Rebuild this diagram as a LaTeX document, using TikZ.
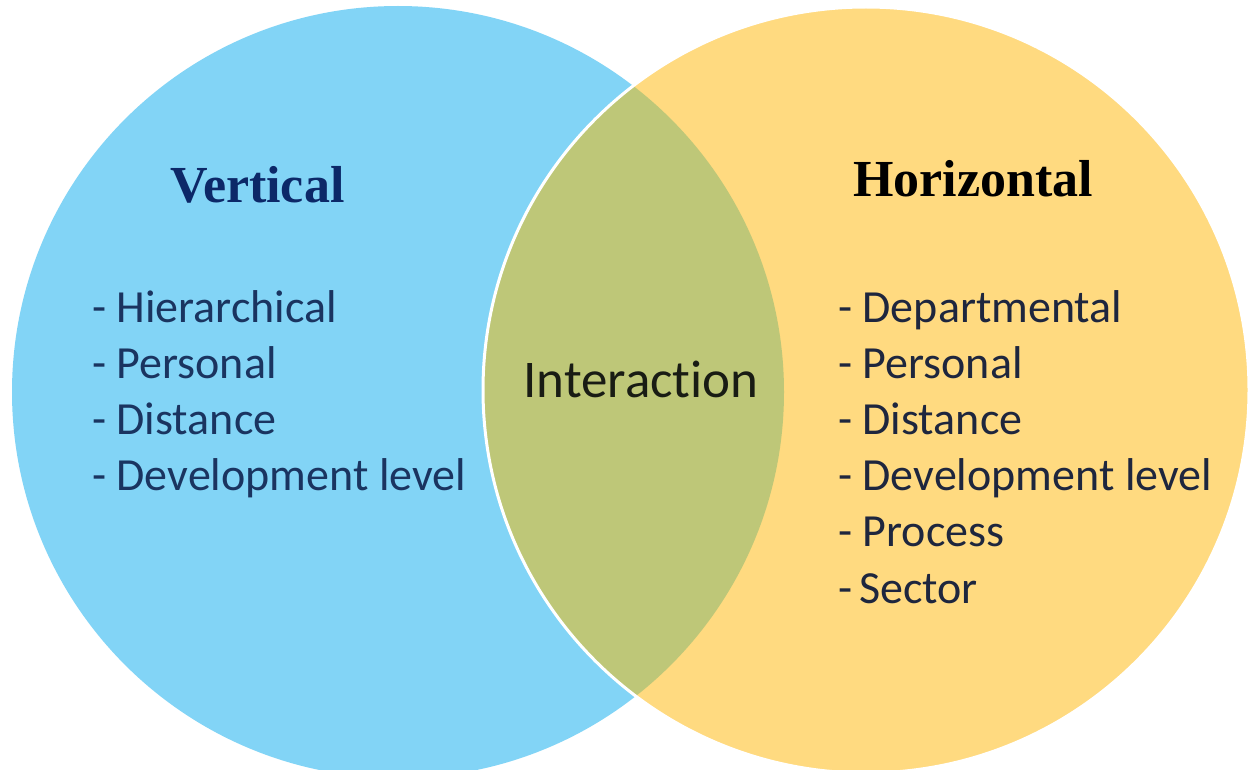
\documentclass[tikz,border=0pt]{standalone}
\usepackage{fontspec}
\setmainfont{Liberation Serif}
\newfontfamily\listfont[Ligatures=NoCommon]{Carlito}
\begin{document}
\begin{tikzpicture}[x=1pt,y=-1pt,
  heading/.style={anchor=base west,inner sep=0pt,font=\fontsize{52}{56}\selectfont\bfseries},
  item/.style={anchor=base west,inner sep=0pt,font=\listfont\fontsize{46}{56}\selectfont},
  midlabel/.style={anchor=base,inner sep=0pt,font=\listfont\fontsize{53}{56}\selectfont,text=midtext}]
\definecolor{vblue}{RGB}{130,212,246}
\definecolor{hyellow}{RGB}{255,218,128}
\definecolor{overlapgreen}{RGB}{190,199,120}
\definecolor{vnavy}{RGB}{12,40,104}
\definecolor{lefttext}{RGB}{26,52,96}
\definecolor{righttext}{RGB}{30,38,62}
\definecolor{midtext}{RGB}{25,28,20}
\useasboundingbox (0,0) rectangle (1248,770);
\fill[white] (0,0) rectangle (1248,770);
% the two circles
\fill[vblue] (398,392) circle[radius=386];
\fill[hyellow] (866,390) circle[radius=383];
% shared region
\begin{scope}
  \clip (398,392) circle[radius=386];
  \fill[overlapgreen] (866,390) circle[radius=383];
\end{scope}
\draw[white,line width=3] (866,390) circle[radius=383];
% headings
\node[heading,text=vnavy] (vt) at (170,203) {Vertical};
\node[heading,text=black] (hz) at (853,197) {Horizontal};
% left list
\node[item,text=lefttext] (l1) at (92,322) {- Hierarchical};
\node[item,text=lefttext] (l2) at (92,378) {- Personal};
\node[item,text=lefttext] (l3) at (92,434) {- Distance};
\node[item,text=lefttext] (l4) at (92,490) {- Development level};
% middle
\node[midlabel] (mid) at (641,397) {Interaction};
% right list
\node[item,text=righttext] (r1) at (838,322) {- Departmental};
\node[item,text=righttext] (r2) at (838,378) {- Personal};
\node[item,text=righttext] (r3) at (838,434) {- Distance};
\node[item,text=righttext] (r4) at (838,490) {- Development level};
\node[item,text=righttext] (r5) at (838,546) {- Process};
\node[item,text=righttext] (r6) at (838,603) {-\hspace{0.15em}Sector};
\end{tikzpicture}
\end{document}
